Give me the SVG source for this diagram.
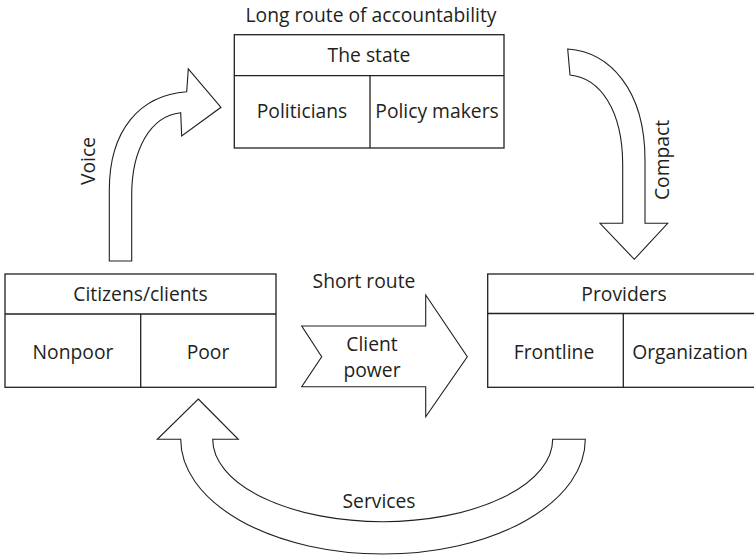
<svg xmlns="http://www.w3.org/2000/svg" width="754" height="558" viewBox="0 0 754 558">
<style>
.box{fill:#fff;stroke:#231f20;stroke-width:1.3}
.ln{stroke:#231f20;stroke-width:1.3;fill:none}
.arr{fill:#fff;stroke:#231f20;stroke-width:1.1;stroke-linejoin:miter}
text{font-family:"Open Sans","Noto Sans","Liberation Sans",sans-serif;font-size:19.3px;fill:#231f20;text-anchor:middle}
</style>
<rect width="754" height="558" fill="#fff"/>
<g id="connectors">
<g id="voice">
<path class="arr" d="M109.3,261 L131.7,261 L131.7,195 C131.7,150 150,116 180.7,112.7 L181.7,136 L221,107.3 L188.3,69 L186.7,91.7 C140,95 109.3,130 109.3,190 Z"/>
<text transform="translate(95,161) rotate(-90)">Voice</text>
</g>
<g id="compact">
<path class="arr" d="M567.7,49 C610,52 645,90 645,160 L645,223.3 L667.7,223.3 L634.3,259.3 L600,223.3 L622.7,223.3 L622.7,165 C622.7,110 600,78 570,75 Z"/>
<text transform="translate(669,160) rotate(-90)">Compact</text>
</g>
<g id="client-power">
<path class="arr" d="M301.7,326 L425.7,326 L425.7,295 L467.3,356.7 L425.7,416.7 L425.7,386.7 L301.7,386.7 L321.7,356.7 Z"/>
<text x="364" y="288">Short route</text>
<text x="372" y="351">Client</text>
<text x="372" y="377">power</text>
</g>
<g id="services">
<path class="arr" d="M198.3,399 L238.3,439.3 L212.7,439.3 A170,82.4 0 0 0 552.7,439.3 L585.3,439.3 A202.3,114.7 0 0 1 180.7,439.3 L157.3,439.3 Z"/>
<text x="379" y="508">Services</text>
</g>
</g>
<g id="state">
<text x="371" y="22">Long route of accountability</text>
<rect class="box" x="234.3" y="34.7" width="269.7" height="113.3"/>
<line class="ln" x1="234.3" y1="75.7" x2="504" y2="75.7"/>
<line class="ln" x1="370" y1="75.7" x2="370" y2="148"/>
<text x="369" y="62">The state</text>
<text x="302" y="118">Politicians</text>
<text x="437" y="118">Policy makers</text>
</g>
<g id="citizens">
<rect class="box" x="5" y="274" width="271" height="113.3"/>
<line class="ln" x1="5" y1="314" x2="276" y2="314"/>
<line class="ln" x1="140.7" y1="314" x2="140.7" y2="387.3"/>
<text x="140.5" y="301">Citizens/clients</text>
<text x="73" y="358.5">Nonpoor</text>
<text x="208" y="358.5">Poor</text>
</g>
<g id="providers">
<rect class="box" x="487.7" y="274" width="271" height="113.3"/>
<line class="ln" x1="487.7" y1="313.5" x2="758.7" y2="313.5"/>
<line class="ln" x1="623.3" y1="313.5" x2="623.3" y2="387.3"/>
<text x="624" y="301">Providers</text>
<text x="554" y="359">Frontline</text>
<text x="690" y="359">Organization</text>
</g>
</svg>
